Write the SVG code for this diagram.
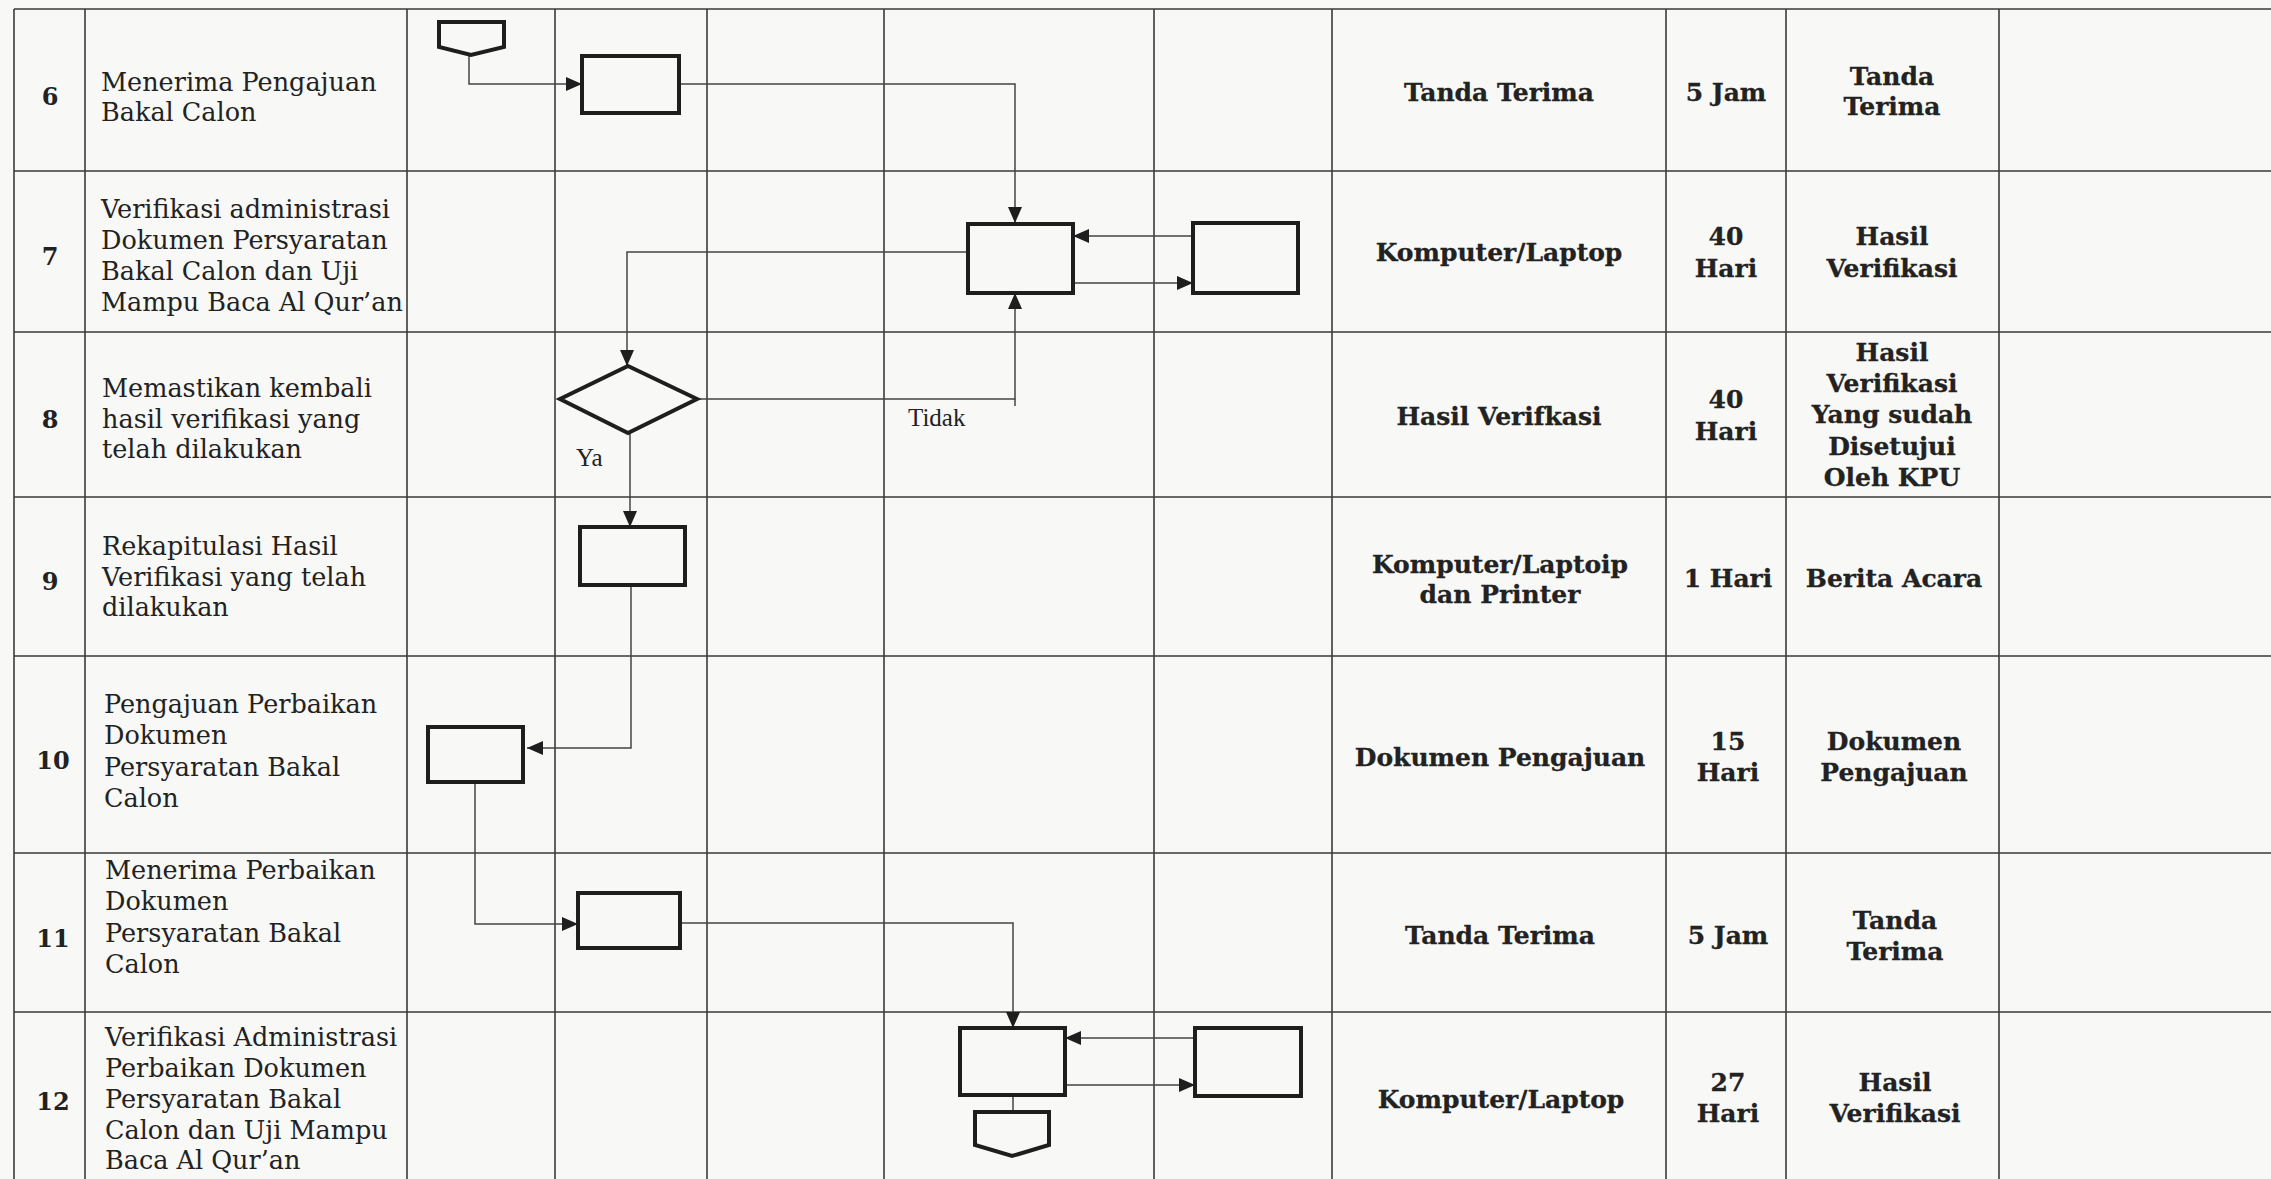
<svg xmlns="http://www.w3.org/2000/svg" width="2271" height="1179" viewBox="0 0 2271 1179">
<defs>
<style>
.grid{stroke:#3a3a3a;stroke-width:1.6;fill:none}
.box{fill:none;stroke:#1e1e1e;stroke-width:4}
.conn{fill:none;stroke:#444;stroke-width:1.5}
.lbl{font-family:"DejaVu Serif","Liberation Serif",serif;font-size:25.5px;fill:#222}
.num{font-family:"DejaVu Serif","Liberation Serif",serif;font-weight:bold;font-size:24px;fill:#222;text-anchor:middle}
.b{font-family:"DejaVu Serif","Liberation Serif",serif;font-weight:bold;font-size:25px;fill:#222;stroke:#222;stroke-width:0.3;text-anchor:middle}
.yt{font-family:"Liberation Serif",serif;font-size:25px;fill:#222}
</style>
<marker id="arr" markerUnits="userSpaceOnUse" markerWidth="16" markerHeight="14" viewBox="0 0 16 14" refX="16" refY="7" orient="auto">
<path d="M0,0 L16,7 L0,14 z" fill="#1e1e1e"/>
</marker>
</defs>
<rect x="0" y="0" width="2271" height="1179" fill="#f8f8f6"/>
<g id="grid" class="grid">
<line x1="14" y1="9" x2="2271" y2="9"/>
<line x1="14" y1="171" x2="2271" y2="171"/>
<line x1="14" y1="332" x2="2271" y2="332"/>
<line x1="14" y1="497" x2="2271" y2="497"/>
<line x1="14" y1="656" x2="2271" y2="656"/>
<line x1="14" y1="853" x2="2271" y2="853"/>
<line x1="14" y1="1012" x2="2271" y2="1012"/>
<line x1="14" y1="9" x2="14" y2="1179"/>
<line x1="85" y1="9" x2="85" y2="1179"/>
<line x1="407" y1="9" x2="407" y2="1179"/>
<line x1="555" y1="9" x2="555" y2="1179"/>
<line x1="707" y1="9" x2="707" y2="1179"/>
<line x1="884" y1="9" x2="884" y2="1179"/>
<line x1="1154" y1="9" x2="1154" y2="1179"/>
<line x1="1332" y1="9" x2="1332" y2="1179"/>
<line x1="1666" y1="9" x2="1666" y2="1179"/>
<line x1="1786" y1="9" x2="1786" y2="1179"/>
<line x1="1999" y1="9" x2="1999" y2="1179"/>
</g>
<g id="connectors" class="conn">
<polyline points="469,55 469,84 582,84" marker-end="url(#arr)"/>
<polyline points="679,84 1015,84 1015,223" marker-end="url(#arr)"/>
<line x1="1193" y1="236" x2="1073" y2="236" marker-end="url(#arr)"/>
<line x1="1073" y1="283" x2="1193" y2="283" marker-end="url(#arr)"/>
<polyline points="968,252 627,252 627,366" marker-end="url(#arr)"/>
<polyline points="697,399 1015,399 1015,293" marker-end="url(#arr)"/>
<line x1="1015" y1="399" x2="1015" y2="406"/>
<line x1="630" y1="433" x2="630" y2="527" marker-end="url(#arr)"/>
<polyline points="631,585 631,748 527,748" marker-end="url(#arr)"/>
<polyline points="475,782 475,924 578,924" marker-end="url(#arr)"/>
<polyline points="680,923 1013,923 1013,1028" marker-end="url(#arr)"/>
<line x1="1195" y1="1038" x2="1065" y2="1038" marker-end="url(#arr)"/>
<line x1="1065" y1="1085" x2="1195" y2="1085" marker-end="url(#arr)"/>
<line x1="1013" y1="1095" x2="1013" y2="1112"/>
</g>
<g id="node-start"><polygon class="box" points="439,22 504,22 504,47 471,55 439,47"/></g>
<g id="node-6"><rect class="box" x="582" y="56" width="97" height="57"/></g>
<g id="node-7a"><rect class="box" x="968" y="224" width="105" height="69"/></g>
<g id="node-7b"><rect class="box" x="1193" y="223" width="105" height="70"/></g>
<g id="node-8"><polygon class="box" points="628,366 697,399 628,433 560,399"/></g>
<g id="node-9"><rect class="box" x="580" y="527" width="105" height="58"/></g>
<g id="node-10"><rect class="box" x="428" y="727" width="95" height="55"/></g>
<g id="node-11"><rect class="box" x="578" y="893" width="102" height="55"/></g>
<g id="node-12a"><rect class="box" x="960" y="1028" width="105" height="67"/></g>
<g id="node-12b"><rect class="box" x="1195" y="1028" width="106" height="68"/></g>
<g id="node-end"><polygon class="box" points="975,1112 1049,1112 1049,1145 1012,1156 975,1145"/></g>
<g id="labels">
<text class="yt" x="908" y="426">Tidak</text>
<text class="yt" x="576" y="466">Ya</text>
</g>
<g id="col-no">
<text class="num" x="50" y="105">6</text>
<text class="num" x="50" y="265">7</text>
<text class="num" x="50" y="428">8</text>
<text class="num" x="50" y="590">9</text>
<text class="num" x="53" y="769">10</text>
<text class="num" x="53" y="947">11</text>
<text class="num" x="53" y="1110">12</text>
</g>
<g id="col-activity" class="lbl">
<text x="101" y="91">Menerima Pengajuan</text>
<text x="101" y="121">Bakal Calon</text>
<text x="101" y="218">Verifikasi administrasi</text>
<text x="101" y="249">Dokumen Persyaratan</text>
<text x="101" y="280">Bakal Calon dan Uji</text>
<text x="101" y="311">Mampu Baca Al Qur’an</text>
<text x="102" y="397">Memastikan kembali</text>
<text x="102" y="428">hasil verifikasi yang</text>
<text x="102" y="458">telah dilakukan</text>
<text x="102" y="555">Rekapitulasi Hasil</text>
<text x="102" y="586">Verifikasi yang telah</text>
<text x="102" y="616">dilakukan</text>
<text x="104" y="713">Pengajuan Perbaikan</text>
<text x="104" y="744">Dokumen</text>
<text x="104" y="776">Persyaratan Bakal</text>
<text x="104" y="807">Calon</text>
<text x="105" y="879">Menerima Perbaikan</text>
<text x="105" y="910">Dokumen</text>
<text x="105" y="942">Persyaratan Bakal</text>
<text x="105" y="973">Calon</text>
<text x="105" y="1046">Verifikasi Administrasi</text>
<text x="105" y="1077">Perbaikan Dokumen</text>
<text x="105" y="1108">Persyaratan Bakal</text>
<text x="105" y="1139">Calon dan Uji Mampu</text>
<text x="105" y="1169">Baca Al Qur’an</text>
</g>
<g id="col-tools" class="b">
<text x="1499" y="101">Tanda Terima</text>
<text x="1499" y="261">Komputer/Laptop</text>
<text x="1499" y="425">Hasil Verifkasi</text>
<text x="1500" y="573">Komputer/Laptoip</text>
<text x="1500" y="603">dan Printer</text>
<text x="1500" y="766">Dokumen Pengajuan</text>
<text x="1500" y="944">Tanda Terima</text>
<text x="1501" y="1108">Komputer/Laptop</text>
</g>
<g id="col-time" class="b">
<text x="1726" y="101">5 Jam</text>
<text x="1726" y="245">40</text>
<text x="1726" y="277">Hari</text>
<text x="1726" y="408">40</text>
<text x="1726" y="440">Hari</text>
<text x="1728" y="587">1 Hari</text>
<text x="1728" y="750">15</text>
<text x="1728" y="781">Hari</text>
<text x="1728" y="944">5 Jam</text>
<text x="1728" y="1091">27</text>
<text x="1728" y="1122">Hari</text>
</g>
<g id="col-output" class="b">
<text x="1892" y="85">Tanda</text>
<text x="1892" y="115">Terima</text>
<text x="1892" y="245">Hasil</text>
<text x="1892" y="277">Verifikasi</text>
<text x="1892" y="361">Hasil</text>
<text x="1892" y="392">Verifikasi</text>
<text x="1892" y="423">Yang sudah</text>
<text x="1892" y="455">Disetujui</text>
<text x="1892" y="486">Oleh KPU</text>
<text x="1894" y="587">Berita Acara</text>
<text x="1894" y="750">Dokumen</text>
<text x="1894" y="781">Pengajuan</text>
<text x="1895" y="929">Tanda</text>
<text x="1895" y="960">Terima</text>
<text x="1895" y="1091">Hasil</text>
<text x="1895" y="1122">Verifikasi</text>
</g>
</svg>
